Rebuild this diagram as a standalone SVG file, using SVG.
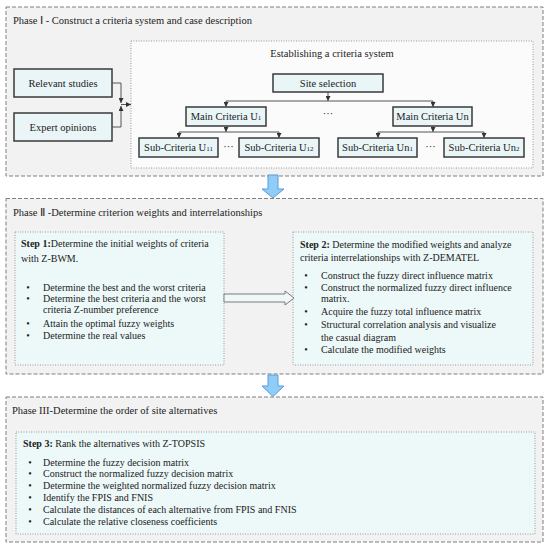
<svg xmlns="http://www.w3.org/2000/svg" width="550" height="548" viewBox="0 0 550 548">
<defs>
<style>
text{font-family:"Liberation Serif","Times New Roman",serif;fill:#222;}
.t{font-size:10.5px;}
.b{font-size:10px;}
.lbl{font-size:10.5px;text-anchor:middle;}
.sub{font-size:7px;}
.phase{fill:#f2f2f2;stroke:#7f7f7f;stroke-width:1;stroke-dasharray:4 2;}
.inner{fill:#fbfbfb;stroke:#9a9a9a;stroke-width:1;stroke-dasharray:1 1.5;}
.step{fill:#edf8f8;stroke:#9a9a9a;stroke-width:1;stroke-dasharray:1 1.5;}
.node{fill:#e9f5f7;stroke:#3a3a3a;stroke-width:1.5;}
.con{fill:none;stroke:#555;stroke-width:1;}
.blue{fill:#8fcdf8;stroke:#5b9bd5;stroke-width:1;}
.hollow{fill:#eef8f8;stroke:#7a7a7a;stroke-width:1;}
</style>
<marker id="ah" viewBox="0 0 6 6" refX="6" refY="3" markerWidth="5" markerHeight="5" orient="auto" markerUnits="userSpaceOnUse">
<path d="M0,0 L6,3 L0,6 z" fill="#333"/>
</marker>
</defs>

<!-- Phase I -->
<g id="phase1">
<rect class="phase" x="6" y="7" width="537" height="169"/>
<text class="t" x="13" y="24">Phase Ⅰ - Construct a criteria system and case description</text>
</g>
<g id="criteria-system">
<rect class="inner" x="131" y="41" width="402" height="127"/>
<text class="t" x="332" y="57" text-anchor="middle">Establishing a criteria system</text>
</g>
<g id="relevant-studies">
<rect class="node" x="14" y="69" width="98" height="28"/>
<text class="lbl" x="63" y="86.5">Relevant studies</text>
</g>
<g id="expert-opinions">
<rect class="node" x="14" y="113" width="98" height="28"/>
<text class="lbl" x="63" y="130.5">Expert opinions</text>
</g>
<g id="site-selection">
<rect class="node" x="273" y="74" width="110" height="18"/>
<text class="lbl" x="328" y="86.5">Site selection</text>
</g>
<g id="main-u1">
<rect class="node" x="186" y="107" width="80" height="19"/>
<text class="lbl" x="226" y="120">Main Criteria U<tspan class="sub">1</tspan></text>
</g>
<g id="main-un">
<rect class="node" x="393" y="107" width="79" height="19"/>
<text class="lbl" x="432.5" y="120">Main Criteria Un</text>
</g>
<g id="sub-u11">
<rect class="node" x="139" y="138" width="79" height="19"/>
<text class="lbl" x="178.5" y="151">Sub-Criteria U<tspan class="sub">11</tspan></text>
</g>
<g id="sub-u12">
<rect class="node" x="239" y="138" width="80" height="19"/>
<text class="lbl" x="279" y="151">Sub-Criteria U<tspan class="sub">12</tspan></text>
</g>
<g id="sub-un1">
<rect class="node" x="338" y="138" width="79" height="19"/>
<text class="lbl" x="377.5" y="151">Sub-Criteria Un<tspan class="sub">1</tspan></text>
</g>
<g id="sub-un2">
<rect class="node" x="444" y="138" width="80" height="19"/>
<text class="lbl" x="484" y="151">Sub-Criteria Un<tspan class="sub">2</tspan></text>
</g>
<g id="dots">
<text class="lbl" x="328" y="117">···</text>
<text class="lbl" x="228.5" y="150">···</text>
<text class="lbl" x="430.5" y="150">···</text>
</g>

<!-- Phase II -->
<g id="phase2">
<rect class="phase" x="6" y="198.5" width="537" height="175.5"/>
<text class="t" x="13" y="216">Phase Ⅱ -Determine criterion weights and interrelationships</text>
</g>
<g id="step1">
<rect class="step" x="15" y="232" width="209" height="133"/>
<text class="b" x="21" y="247"><tspan font-weight="bold">Step 1:</tspan>Determine the initial weights of criteria</text>
<text class="b" x="21" y="262">with Z-BWM.</text>
<text class="b" x="28" y="291" text-anchor="middle">•</text>
<text class="b" x="43" y="291">Determine the best and the worst criteria</text>
<text class="b" x="28" y="302" text-anchor="middle">•</text>
<text class="b" x="43" y="302">Determine the best criteria and the worst</text>
<text class="b" x="43" y="313">criteria Z-number preference</text>
<text class="b" x="28" y="327" text-anchor="middle">•</text>
<text class="b" x="43" y="327">Attain the optimal fuzzy weights</text>
<text class="b" x="28" y="339" text-anchor="middle">•</text>
<text class="b" x="43" y="339">Determine the real values</text>
</g>
<g id="step2">
<rect class="step" x="293" y="232" width="240" height="133"/>
<text class="b" x="300" y="248"><tspan font-weight="bold">Step 2:</tspan> Determine the modified weights and analyze</text>
<text class="b" x="300" y="261">criteria interrelationships with Z-DEMATEL</text>
<text class="b" x="306" y="278.5" text-anchor="middle">•</text>
<text class="b" x="321" y="278.5">Construct the fuzzy direct influence matrix</text>
<text class="b" x="306" y="290.5" text-anchor="middle">•</text>
<text class="b" x="321" y="290.5">Construct the normalized fuzzy direct influence</text>
<text class="b" x="321" y="301.5">matrix.</text>
<text class="b" x="306" y="314.5" text-anchor="middle">•</text>
<text class="b" x="321" y="314.5">Acquire the fuzzy total influence matrix</text>
<text class="b" x="306" y="327.5" text-anchor="middle">•</text>
<text class="b" x="321" y="327.5">Structural correlation analysis and visualize</text>
<text class="b" x="321" y="340.5">the casual diagram</text>
<text class="b" x="306" y="352.5" text-anchor="middle">•</text>
<text class="b" x="321" y="352.5">Calculate the modified weights</text>
</g>

<!-- Phase III -->
<g id="phase3">
<rect class="phase" x="6" y="397" width="537" height="145"/>
<text class="t" x="12" y="414">Phase III-Determine the order of site alternatives</text>
</g>
<g id="step3">
<rect class="step" x="16" y="432" width="519" height="102"/>
<text class="b" x="23" y="447"><tspan font-weight="bold">Step 3:</tspan>  Rank the alternatives with Z-TOPSIS</text>
<text class="b" x="30" y="466" text-anchor="middle">•</text>
<text class="b" x="43" y="466">Determine the fuzzy decision matrix</text>
<text class="b" x="30" y="477" text-anchor="middle">•</text>
<text class="b" x="43" y="477">Construct the normalized fuzzy decision matrix</text>
<text class="b" x="30" y="489" text-anchor="middle">•</text>
<text class="b" x="43" y="489">Determine the weighted normalized fuzzy decision matrix</text>
<text class="b" x="30" y="501" text-anchor="middle">•</text>
<text class="b" x="43" y="501">Identify the FPIS and FNIS</text>
<text class="b" x="30" y="513" text-anchor="middle">•</text>
<text class="b" x="43" y="513">Calculate the distances of each alternative from FPIS and FNIS</text>
<text class="b" x="30" y="525" text-anchor="middle">•</text>
<text class="b" x="43" y="525">Calculate the relative closeness coefficients</text>
</g>

<!-- Connectors -->
<g id="connectors">
<polyline class="con" points="112,83 121,83 121,103" marker-end="url(#ah)"/>
<polyline class="con" points="112,127 121,127 121,106" marker-end="url(#ah)"/>
<line class="con" x1="121" y1="104.5" x2="131" y2="104.5" marker-end="url(#ah)"/>
<line class="con" x1="328" y1="92" x2="328" y2="101" marker-end="url(#ah)"/>
<line class="con" x1="226" y1="101" x2="433" y2="101"/>
<line class="con" x1="226" y1="101" x2="226" y2="107" marker-end="url(#ah)"/>
<line class="con" x1="433" y1="101" x2="433" y2="107" marker-end="url(#ah)"/>
<line class="con" x1="226" y1="126" x2="226" y2="132" marker-end="url(#ah)"/>
<line class="con" x1="179" y1="132" x2="279" y2="132"/>
<line class="con" x1="179" y1="132" x2="179" y2="138" marker-end="url(#ah)"/>
<line class="con" x1="279" y1="132" x2="279" y2="138" marker-end="url(#ah)"/>
<line class="con" x1="433" y1="126" x2="433" y2="132" marker-end="url(#ah)"/>
<line class="con" x1="378" y1="132" x2="484" y2="132"/>
<line class="con" x1="378" y1="132" x2="378" y2="138" marker-end="url(#ah)"/>
<line class="con" x1="484" y1="132" x2="484" y2="138" marker-end="url(#ah)"/>
<polygon class="blue" points="268,175 278,175 278,189 284,189 273,198 262,189 268,189"/>
<polygon class="blue" points="268,375 278,375 278,386 284,386 273,396.5 262,386 268,386"/>
<polygon class="hollow" points="224,294 285,294 285,291 294,298 285,305 285,302 224,302"/>
</g>
</svg>
